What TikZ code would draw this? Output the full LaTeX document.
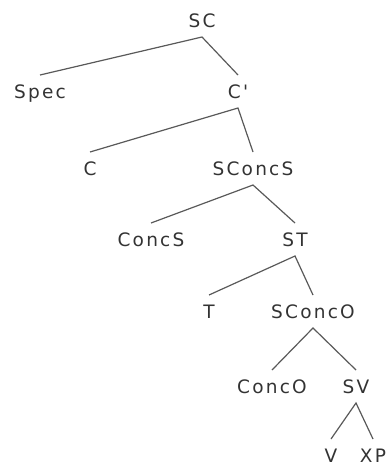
\documentclass[tikz,border=0pt]{standalone}
\usepackage{fontspec}
\setmainfont{DejaVu Sans}[LetterSpace=12, Ligatures=TeXOff]
\begin{document}
\begin{tikzpicture}[x=1pt,y=-1pt,
  lbl/.style={anchor=base, font=\fontsize{18.5}{21}\selectfont, text=black!80,
    inner xsep=0pt, inner ysep=10pt, outer sep=0pt, text height=13pt, text depth=0pt},
  branch/.style={draw=black!65, line width=1.2pt}]
\useasboundingbox (0,0) rectangle (387,466);
% tree labels, placed on their baselines
\node[lbl] (sc)     at (202,27)  {SC};
\node[lbl] (spec)   at (40,98)   {Spec};
\node[lbl] (cbar)   at (238,98)  {C'};
\node[lbl] (c)      at (90,175)  {C};
\node[lbl] (sconcs) at (253,175) {SConcS};
\node[lbl] (concs)  at (151,246) {ConcS};
\node[lbl] (st)     at (295,246) {ST};
\node[lbl] (t)      at (209,318) {T};
\node[lbl] (sconco) at (313,318) {SConcO};
\node[lbl] (conco)  at (272,393) {ConcO};
\node[lbl] (sv)     at (356,393) {SV};
\node[lbl] (v)      at (331,462) {V};
\node[lbl] (xp)     at (373,462) {XP};
% branches
\draw[branch] (spec.north) -- (sc.south) -- (cbar.north);
\draw[branch] (c.north) -- (cbar.south) -- (sconcs.north);
\draw[branch] (concs.north) -- (sconcs.south) -- (st.north);
\draw[branch] (t.north) -- (st.south) -- (sconco.north);
\draw[branch] (conco.north) -- (sconco.south) -- (sv.north);
\draw[branch] (v.north) -- (sv.south) -- (xp.north);
\end{tikzpicture}
\end{document}
